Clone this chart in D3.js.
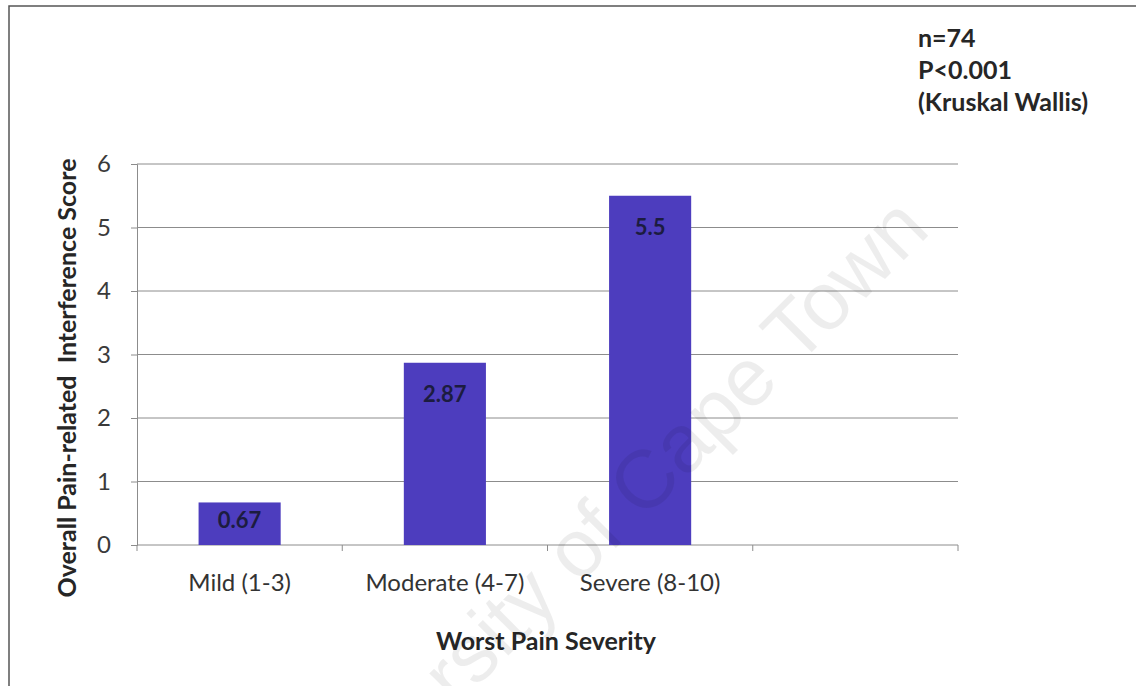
<!DOCTYPE html>
<html>
<head>
<meta charset="utf-8">
<script src="https://cdn.jsdelivr.net/npm/d3@7"></script>
<style>
  html, body { margin: 0; padding: 0; background: #fff; }
  svg { display: block; font-family: Lato, "Open Sans", sans-serif; }
</style>
</head>
<body>
<svg id="chart" width="1136" height="686"></svg>
<script>
// Mean overall pain-related interference score by worst pain severity group
const categories = ["Mild (1-3)", "Moderate (4-7)", "Severe (8-10)", ""];
const scores = [0.67, 2.87, 5.5, null];
const yTicks = [0, 1, 2, 3, 4, 5, 6];
const notes = ["n=74", "P<0.001", "(Kruskal Wallis)"];

const svg = d3.select("#chart");
const W = 1136, H = 686;
const plot = { left: 137, right: 958, top: 164, bottom: 545 };

// frame around the chart area
svg.append("path")
  .attr("d", `M9,${H} L9,6 L${W},6`)
  .attr("fill", "none").attr("stroke", "#555").attr("stroke-width", 1.5);

const x = d3.scaleBand().domain(categories.map((c, i) => i))
  .range([plot.left, plot.right]).padding(0);
const y = d3.scaleLinear().domain([0, 6]).range([plot.bottom, plot.top]);

// horizontal gridlines
svg.append("g").selectAll("line").data(yTicks.filter(t => t > 0)).join("line")
  .attr("x1", plot.left).attr("x2", plot.right)
  .attr("y1", d => y(d)).attr("y2", d => y(d))
  .attr("stroke", "#8c8c8c").attr("stroke-width", 1);

// y axis
const yAxis = svg.append("g").attr("transform", `translate(${plot.left},0)`)
  .call(d3.axisLeft(y).tickValues(yTicks).tickSize(6).tickPadding(20).tickFormat(d3.format("d")));
yAxis.select(".domain").attr("stroke", "#8c8c8c");
yAxis.selectAll(".tick line").attr("stroke", "#8c8c8c");
yAxis.selectAll(".tick text")
  .attr("font-family", "Lato, sans-serif").attr("font-size", 24).attr("fill", "#3a3a3a");

// x axis with ticks at band boundaries
const xAxis = svg.append("g").attr("transform", `translate(0,${plot.bottom})`);
xAxis.append("line").attr("x1", plot.left).attr("x2", plot.right)
  .attr("stroke", "#8c8c8c");
const bounds = categories.map((c, i) => x(i)).concat([x(categories.length - 1) + x.bandwidth()]);
xAxis.selectAll("line.tk").data(bounds).join("line").attr("class", "tk")
  .attr("x1", d => d).attr("x2", d => d).attr("y1", 0).attr("y2", 6)
  .attr("stroke", "#8c8c8c");
xAxis.selectAll("text").data(categories).join("text")
  .attr("x", (d, i) => x(i) + x.bandwidth() / 2)
  .attr("y", 46)
  .attr("text-anchor", "middle")
  .attr("font-size", 24).attr("fill", "#333")
  .text(d => d);

// bars
const barW = x.bandwidth() * 0.4;
const barData = scores.map((v, i) => ({ v, i })).filter(d => d.v != null);
svg.append("g").selectAll("rect").data(barData).join("rect")
  .attr("x", d => x(d.i) + (x.bandwidth() - barW) / 2)
  .attr("y", d => y(d.v))
  .attr("width", barW)
  .attr("height", d => y(0) - y(d.v))
  .attr("fill", "#4d3dbe");

// value labels inside the bar tops
svg.append("g").selectAll("text").data(barData).join("text")
  .attr("x", d => x(d.i) + x.bandwidth() / 2)
  .attr("y", d => y(d.v) + Math.min(31, (y(0) - y(d.v)) / 2 - 4) + 8)
  .attr("text-anchor", "middle")
  .attr("font-size", 22).attr("font-weight", "bold").attr("fill", "#1c1c40")
  .text(d => d.v);

// axis titles
svg.append("text")
  .attr("transform", `translate(76,378) rotate(-90)`)
  .attr("text-anchor", "middle")
  .attr("font-size", 25).attr("font-weight", "bold").attr("fill", "#262626")
  .style("white-space", "pre")
  .text("Overall Pain-related  Interference Score");

svg.append("text")
  .attr("x", 546).attr("y", 650)
  .attr("text-anchor", "middle")
  .attr("font-size", 25).attr("font-weight", "bold").attr("fill", "#262626")
  .text("Worst Pain Severity");

// statistics note
svg.append("g").selectAll("text").data(notes).join("text")
  .attr("x", 918).attr("y", (d, i) => 47 + i * 32)
  .attr("font-size", 25).attr("font-weight", "bold").attr("fill", "#262626")
  .text(d => d);

// institutional watermark
svg.append("text")
  .attr("transform", "translate(932,232) rotate(-45)")
  .attr("text-anchor", "end")
  .attr("font-family", "Liberation Sans, Arial, sans-serif")
  .attr("font-size", 82).attr("fill", "#000").attr("fill-opacity", 0.07)
  .text("University of Cape Town");
</script>
</body>
</html>
